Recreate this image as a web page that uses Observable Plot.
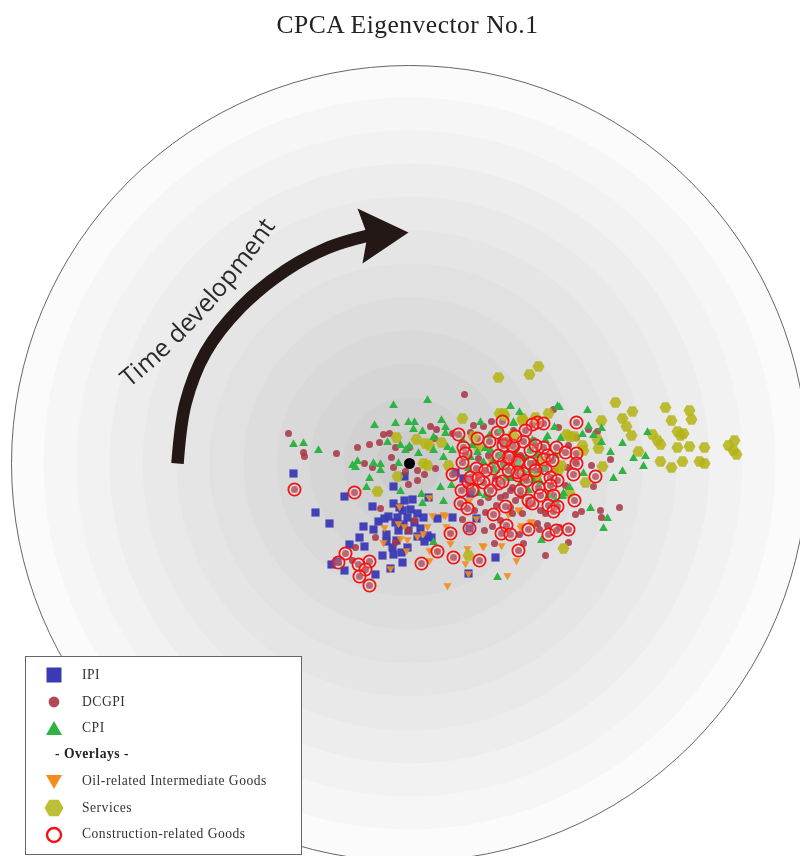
<!DOCTYPE html>
<html>
<head>
<meta charset="utf-8">
<script src="https://cdn.jsdelivr.net/npm/d3@7"></script>
<script src="https://cdn.jsdelivr.net/npm/@observablehq/plot@0.6"></script>
<style>
html,body{margin:0;padding:0;background:#fff;width:800px;height:856px;overflow:hidden}
#wrap{position:relative;width:800px;height:856px}
#title{height:50px;text-align:center;font:25.5px/50px "Liberation Serif",serif;letter-spacing:.5px;color:#222;padding-left:15px;box-sizing:border-box;filter:blur(.3px)}
#chart svg{display:block;filter:blur(.6px)}
#legend{position:absolute;left:25px;top:656px;width:275px;height:197px;background:#fff;border:1.3px solid #666;font:13.6px "Liberation Serif",serif;letter-spacing:.5px;color:#333;filter:blur(.4px)}
#legend .row{position:absolute;left:0;white-space:nowrap}
#legend .row span{position:absolute;left:56px;top:-8px;line-height:16px}
#legend .row b{position:absolute;left:29px;top:-8px;line-height:16px;color:#222}
#legend svg{position:absolute;left:18px;top:-10px;overflow:visible}
</style>
</head>
<body>
<div id="wrap">
<div id="title">CPCA Eigenvector No.1</div>
<div id="chart"></div>
<div id="legend"></div>
</div>
<script>
// Values (x, y in the picture's own units)
const centre = [409, 463];
const ringRadii = [398, 366, 333, 300, 267, 233, 200, 166, 133, 100, 66, 33];
const ringGrays = ["#fbfbfb","#f6f6f6","#f2f2f2","#ededed","#e9e9e9","#e5e5e5","#e1e1e1","#dddddd","#d9d9d9","#d5d5d5","#d1d1d1","#cccccc"];

const ipi = [[293,473],[315,512],[329,523],[344,496],[372,506],[393,486],[393,503],[363,526],[373,529],[359,537],[349,544],[364,546],[331,564],[337,561],[344,570],[375,574],[390,568],[402,562],[382,555],[393,554],[386,534],[378,521],[384,518],[404,500],[412,499],[397,517],[407,517],[417,513],[423,517],[437,518],[452,517],[476,518],[395,522],[398,530],[407,547],[401,552],[417,536],[427,535],[424,541],[431,537],[404,476],[469,528],[495,557],[468,573],[470,493],[463,478],[455,472],[388,516],[402,510],[408,530],[414,522],[392,547],[399,507],[428,497],[403,524],[420,528],[386,541],[396,540],[410,509]];

const oil = [[399,506],[429,497],[398,523],[404,526],[384,527],[383,542],[400,538],[407,539],[406,550],[417,536],[423,533],[427,526],[432,515],[443,514],[390,568],[450,533],[450,543],[429,550],[437,551],[429,560],[467,548],[482,545],[465,563],[468,573],[447,585],[507,575],[516,560],[501,545],[476,518],[469,500],[446,526],[445,515],[483,546],[519,509],[471,485],[530,522],[521,525],[537,476],[520,527],[531,521],[518,510],[508,514],[534,525],[512,475],[538,477],[490,460]];

const dcgpi = [[288,433],[303,452],[304,456],[336,453],[357,447],[369,444],[379,442],[383,434],[389,433],[395,447],[409,447],[391,457],[364,463],[372,467],[393,467],[408,484],[417,480],[424,474],[417,470],[405,471],[435,468],[464,394],[430,426],[436,429],[434,438],[380,508],[375,537],[355,547],[414,520],[395,542],[352,560],[408,530],[462,519],[494,543],[473,425],[491,421],[610,459],[591,465],[593,486],[619,507],[600,510],[601,517],[581,511],[575,514],[568,542],[545,555],[523,543],[553,409],[558,427],[588,429],[597,431],[568,445],[576,437],[575,462],[567,467],[512,513],[505,495],[510,507],[520,495],[537,523],[547,525],[539,529],[519,534],[559,527],[512,487],[522,513],[545,513],[513,430],[533,440],[496,505],[488,497],[480,502],[500,520],[528,505],[540,510],[484,530],[492,526],[452,433],[470,432],[483,426],[500,440],[520,455],[535,462],[488,455],[478,458],[495,478],[510,490],[525,478],[500,497],[515,500],[485,512],[474,510],[540,470],[555,470],[565,485]];

const construction = [[294,489],[354,492],[345,553],[338,562],[369,561],[358,564],[365,569],[359,576],[369,585],[421,563],[437,551],[453,557],[450,533],[469,528],[479,560],[493,514],[505,506],[506,525],[501,533],[510,534],[518,550],[461,490],[460,503],[467,508],[452,474],[468,482],[483,482],[498,483],[493,468],[503,463],[458,434],[477,438],[489,441],[502,421],[497,432],[463,447],[465,453],[462,462],[476,468],[503,445],[513,446],[510,457],[518,460],[518,475],[470,477],[576,422],[537,422],[543,423],[532,424],[525,430],[523,441],[512,445],[556,447],[543,447],[547,455],[543,459],[576,453],[576,463],[573,474],[530,463],[545,468],[517,462],[508,457],[523,473],[517,472],[502,481],[595,476],[550,477],[557,480],[538,487],[550,485],[574,500],[528,500],[532,503],[553,495],[548,505],[557,506],[553,511],[528,529],[548,534],[556,530],[568,529],[505,440],[515,436],[530,450],[498,455],[508,470],[526,480],[535,470],[540,495],[520,490],[485,470],[490,490],[535,445],[552,460],[565,452],[472,490],[478,478]];

const cpi = [[293,444],[303,443],[318,450],[393,405],[427,400],[510,406],[374,425],[395,423],[408,422],[414,422],[413,429],[441,420],[422,431],[445,427],[445,433],[387,442],[400,445],[409,446],[405,450],[357,461],[352,465],[355,467],[373,463],[380,464],[380,470],[369,478],[366,487],[400,491],[398,463],[421,494],[443,501],[440,487],[451,485],[478,493],[485,495],[422,503],[497,577],[433,542],[480,422],[513,422],[489,435],[433,437],[447,447],[433,450],[418,453],[443,457],[452,450],[470,457],[477,452],[483,462],[462,440],[468,468],[557,406],[559,407],[587,410],[588,426],[601,428],[593,435],[582,434],[601,442],[622,443],[647,432],[610,452],[633,458],[645,456],[643,466],[622,471],[613,478],[590,508],[607,518],[603,528],[541,540],[563,493],[562,496],[569,487],[583,473],[554,427],[547,436],[513,423],[519,412],[530,450],[532,440],[507,443],[543,468],[528,490],[540,482],[520,483],[518,463],[503,467],[533,480],[500,455],[490,450],[515,452],[525,458],[537,455],[495,470],[510,478],[472,445],[485,448],[522,470],[545,440],[555,455],[560,438],[500,430],[492,462],[530,470],[548,495],[555,500],[505,478]];

const services = [[538,366],[529,374],[498,377],[615,402],[632,411],[665,407],[689,410],[671,420],[691,419],[601,420],[622,418],[626,426],[631,435],[652,434],[657,440],[660,444],[677,431],[683,433],[680,435],[677,447],[689,446],[704,447],[638,451],[660,461],[671,467],[682,461],[699,461],[704,463],[734,440],[728,445],[733,450],[736,454],[602,466],[585,482],[598,448],[597,439],[583,450],[582,445],[569,436],[561,465],[558,470],[569,492],[563,548],[548,413],[522,418],[504,415],[512,435],[535,417],[462,418],[499,413],[503,413],[396,437],[416,439],[425,443],[429,445],[441,442],[423,463],[427,465],[397,476],[377,491],[468,555],[448,465],[473,436],[478,447],[513,436],[522,420],[566,434],[574,436],[540,460],[535,478]];

const arrowShaft = [[177,463],[185,403],[205,352],[240,307],[285,270],[328,247],[368,235]];
const arrowHead = [[408,232],[357,208],[367,235],[362,263]];

const caption = "Time development".replace(" ", "").split("");
const captionX = [129,136.6,147.9,161.1,176.5,186.6,195.5,204.9,211.5,218,227.9,240,250.8,259.5,266.3];
const captionY = [377,370.5,360.6,348.4,333.4,323,313.6,303.3,295.8,288.2,276.3,261,246.6,234.4,224.5];
const captionAngle = [-40,-40.5,-41,-42,-44,-45,-46,-47,-48,-49,-50,-51,-53,-54,-55];

const legendEntries = ["IPI","DCGPI","CPI","- Overlays -","Oil-related Intermediate Goods","Services","Construction-related Goods"];

const ipiColor = "#3a3ab4", dcgpiColor = "#a93545", cpiColor = "#2fb344", oilColor = "#f28c1e", servicesColor = "#b4b414", constructionColor = "#f41212";

const rings = ringRadii.map((r, i) => ({r, gray: ringGrays[i]}));
const chart = Plot.plot({
  width: 800, height: 806,
  margin: 0,
  x: {domain: [0, 800], axis: null},
  y: {domain: [856, 50], axis: null},
  r: {type: "identity"},
  marks: [
    Plot.dot(rings, {x: () => centre[0], y: () => centre[1], r: "r", fill: d => d.gray, stroke: null}),
    Plot.dot(rings.slice(0, 1), {x: () => centre[0], y: () => centre[1], r: "r", fill: "none", stroke: "#555", strokeWidth: 0.9}),
    Plot.line(arrowShaft, {x: "0", y: "1", curve: "catmull-rom", stroke: "#231815", strokeWidth: 12.5, strokeLinecap: "butt"}),
    Plot.line(arrowHead, {x: "0", y: "1", curve: "linear-closed", fill: "#231815", stroke: null}),
    Plot.text(caption, {x: (d, i) => captionX[i], y: (d, i) => captionY[i], rotate: (d, i) => captionAngle[i], text: d => d, fontFamily: "Open Sans", fontSize: 25, fill: "#2a2a2a", textAnchor: "middle", lineAnchor: "middle"}),
    Plot.dot(ipi, {x: "0", y: "1", symbol: "square", r: 4.6, fill: ipiColor, stroke: null, fillOpacity: 0.95}),
    Plot.dot(oil, {x: "0", y: "1", symbol: "triangle", rotate: 180, r: 3, fill: oilColor, stroke: null, fillOpacity: 0.9}),
    Plot.dot(dcgpi.concat(construction), {x: "0", y: "1", r: 3.5, fill: dcgpiColor, stroke: null, fillOpacity: 0.85}),
    Plot.dot(services, {x: "0", y: "1", symbol: "hexagon", rotate: 90, r: 5.2, fill: servicesColor, stroke: null, fillOpacity: 0.85}),
    Plot.dot(cpi, {x: "0", y: "1", symbol: "triangle", r: 3.3, fill: cpiColor, stroke: null}),
    Plot.dot(construction, {x: "0", y: "1", r: 6.1, fill: "#fff", fillOpacity: 0.15, stroke: constructionColor, strokeWidth: 1.8}),
    Plot.dot([centre], {x: "0", y: "1", r: 5.5, fill: "#000", stroke: null})
  ]
});
document.getElementById("chart").append(chart);

const legendSymbols = [
  {type: "square", color: ipiColor},
  {type: "circle", color: dcgpiColor},
  {type: "triangle", color: cpiColor},
  null,
  {type: "down", color: oilColor},
  {type: "hex", color: servicesColor},
  {type: "ring", color: constructionColor}
];
const rowTops = [18, 45, 71, 97, 124, 151, 177];
const legend = document.getElementById("legend");
legendEntries.forEach((label, i) => {
  const row = document.createElement("div");
  row.className = "row";
  row.style.top = rowTops[i] + "px";
  const s = legendSymbols[i];
  if (s) {
    const shape = {
      square: `<rect x="2.5" y="2.5" width="15" height="15" fill="${s.color}"/>`,
      circle: `<circle cx="10" cy="10" r="5.4" fill="${s.color}" fill-opacity=".9"/>`,
      triangle: `<path d="M10 3L18 17H2Z" fill="${s.color}"/>`,
      down: `<path d="M10 18L18 4H2Z" fill="${s.color}"/>`,
      hex: `<path d="M0.5 10L5.2 1.7H14.8L19.5 10L14.8 18.3H5.2Z" fill="${s.color}" fill-opacity=".85"/>`,
      ring: `<circle cx="10" cy="11" r="7" fill="none" stroke="${s.color}" stroke-width="2.4"/>`
    }[s.type];
    row.innerHTML = `<svg width="20" height="20">${shape}</svg><span>${label}</span>`;
  } else {
    row.innerHTML = `<b>${label}</b>`;
  }
  legend.append(row);
});
</script>
</body>
</html>
